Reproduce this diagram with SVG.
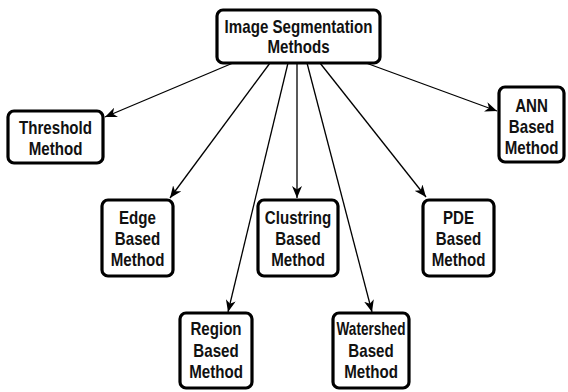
<svg xmlns="http://www.w3.org/2000/svg" width="568" height="392" viewBox="0 0 568 392">
<defs>
<marker id="ah" viewBox="0 0 12 10" refX="12" refY="5" markerWidth="12" markerHeight="10" markerUnits="userSpaceOnUse" orient="auto">
<path d="M0,0 L12,5 L0,10 L3.5,5 z" fill="#000"/>
</marker>
<style>
.box{fill:#fff;stroke:#000;stroke-width:3.2}
.t{font-family:"Liberation Sans",Arial,sans-serif;font-weight:bold;font-size:18px;fill:#111;text-anchor:middle}
.c{stroke:#000;stroke-width:1.3;fill:none;marker-end:url(#ah)}
</style>
</defs>
<rect width="568" height="392" fill="#fff"/>
<g id="connectors">
<line class="c" x1="233" y1="63" x2="105" y2="117"/>
<line class="c" x1="270" y1="63" x2="170" y2="198"/>
<line class="c" x1="288" y1="63" x2="228" y2="312"/>
<line class="c" x1="297" y1="63" x2="297" y2="198"/>
<line class="c" x1="307" y1="63" x2="372" y2="312"/>
<line class="c" x1="320" y1="63" x2="426" y2="197"/>
<line class="c" x1="366" y1="63" x2="497" y2="111"/>
</g>
<g id="root">
<rect class="box" x="217" y="10" width="163" height="53" rx="6"/>
<g transform="translate(298.5 0) scale(0.84 1)">
<text class="t" x="0" y="33">Image Segmentation</text>
<text class="t" x="0" y="53">Methods</text>
</g>
</g>
<g id="threshold">
<rect class="box" x="8" y="111" width="95" height="52" rx="6"/>
<g transform="translate(55.5 0) scale(0.84 1)">
<text class="t" x="0" y="134">Threshold</text>
<text class="t" x="0" y="155">Method</text>
</g>
</g>
<g id="edge">
<rect class="box" x="102" y="200" width="71" height="76" rx="6"/>
<g transform="translate(137.5 0) scale(0.84 1)">
<text class="t" x="0" y="224">Edge</text>
<text class="t" x="0" y="245">Based</text>
<text class="t" x="0" y="266">Method</text>
</g>
</g>
<g id="clustring">
<rect class="box" x="258" y="200" width="80" height="76" rx="6"/>
<g transform="translate(298 0) scale(0.84 1)">
<text class="t" x="0" y="224">Clustring</text>
<text class="t" x="0" y="245">Based</text>
<text class="t" x="0" y="266">Method</text>
</g>
</g>
<g id="pde">
<rect class="box" x="423" y="200" width="71" height="76" rx="6"/>
<g transform="translate(458.5 0) scale(0.84 1)">
<text class="t" x="0" y="224">PDE</text>
<text class="t" x="0" y="245">Based</text>
<text class="t" x="0" y="266">Method</text>
</g>
</g>
<g id="ann">
<rect class="box" x="499" y="87" width="65" height="75" rx="6"/>
<g transform="translate(531.5 0) scale(0.84 1)">
<text class="t" x="0" y="112">ANN</text>
<text class="t" x="0" y="133">Based</text>
<text class="t" x="0" y="154">Method</text>
</g>
</g>
<g id="region">
<rect class="box" x="180" y="313" width="72" height="75" rx="6"/>
<g transform="translate(216 0) scale(0.84 1)">
<text class="t" x="0" y="335">Region</text>
<text class="t" x="0" y="357">Based</text>
<text class="t" x="0" y="378">Method</text>
</g>
</g>
<g id="watershed">
<rect class="box" x="333" y="313" width="76" height="75" rx="6"/>
<g transform="translate(371 0) scale(0.84 1)">
<text class="t" x="0" y="335" textLength="82" lengthAdjust="spacingAndGlyphs">Watershed</text>
<text class="t" x="0" y="357">Based</text>
<text class="t" x="0" y="378">Method</text>
</g>
</g>
</svg>
